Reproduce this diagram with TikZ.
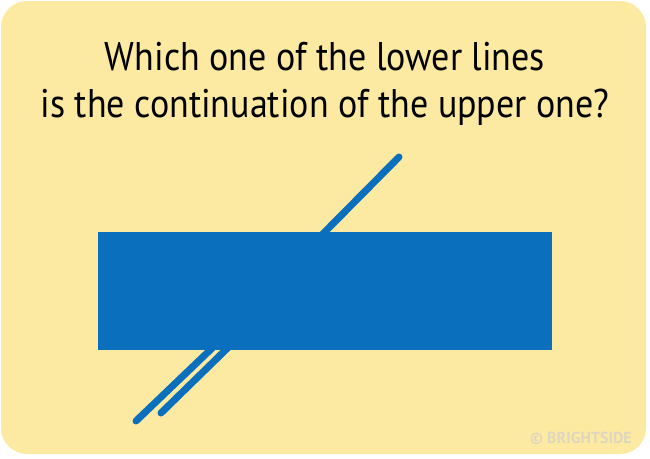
\documentclass[tikz,border=0pt]{standalone}
\usepackage{fontspec}
\setmainfont{PT Sans}
\usepackage{tikz}
\usetikzlibrary{positioning}
\definecolor{cardyellow}{RGB}{253, 234, 162}
\definecolor{barblue}{RGB}{10, 111, 189}
\definecolor{markgrey}{RGB}{222, 214, 190}

\begin{document}
\begin{tikzpicture}[x=1pt, y=-1pt,
    title/.style={anchor=base, font=\fontsize{40}{48}\selectfont, text=black, inner sep=0pt},
    stroke/.style={draw=barblue, line width=7pt, line cap=round},
    block/.style={fill=barblue, draw=none, anchor=north west, minimum width=454pt,
                  minimum height=118pt, inner sep=0pt}
]
    \useasboundingbox (0,0) rectangle (650,458);
    \fill[cardyellow, rounded corners=26pt] (1,1) rectangle (646,454);

    \node[title] (line1) at (325,70) {\scalebox{0.9}[1]{Which one of the lower lines}};
    \node[title] (line2) at (325,117) {\scalebox{0.9}[1]{is the continuation of the upper one?}};

    % upper line and the two lower ones, hidden under the bar
    \draw[stroke] (399,157) -- (300,257);
    \draw[stroke] (136,421) -- (230,331);
    \draw[stroke] (161,413) -- (245,331);

    \node[block] (bar) at (98,232) {};

    \node[font=\bfseries\fontsize{16}{16}\selectfont, text=markgrey, anchor=base east, inner sep=0pt]
        (mark) at (632,443) {\textcopyright\ BRIGHTSIDE};
\end{tikzpicture}
\end{document}
